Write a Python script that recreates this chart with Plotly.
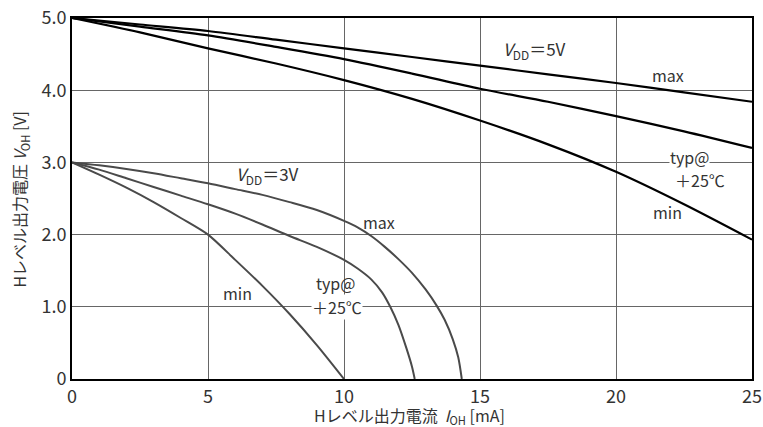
import plotly.graph_objects as go

# VDD = 5V curves
x5_max = [0, 2.5, 5, 7.5, 10, 12.5, 15, 17.5, 20, 22.5, 25]
y5_max = [5.0, 4.91, 4.82, 4.70, 4.58, 4.46, 4.34, 4.22, 4.10, 3.97, 3.84]
x5_typ = [0, 2.5, 5, 7.5, 10, 12.5, 15, 17.5, 20, 22.5, 25]
y5_typ = [5.0, 4.88, 4.76, 4.60, 4.43, 4.23, 4.02, 3.84, 3.64, 3.43, 3.20]
x5_min = [0, 2.5, 5, 7.5, 10, 12.5, 15, 17.5, 20, 22.5, 25]
y5_min = [5.0, 4.80, 4.58, 4.37, 4.14, 3.88, 3.58, 3.25, 2.87, 2.42, 1.93]

# VDD = 3V curves
x3_max = [0, 1, 2, 3, 4, 5, 6, 7, 8, 9, 10, 10.5, 11, 11.5, 12, 12.5, 13, 13.4, 13.7, 14.0, 14.2, 14.33]
y3_max = [3.0, 2.96, 2.91, 2.85, 2.78, 2.71, 2.63, 2.55, 2.45, 2.34, 2.19, 2.10, 1.98, 1.83, 1.66, 1.47, 1.24, 1.02, 0.82, 0.55, 0.30, 0.0]
x3_typ = [0, 1, 2, 3, 4, 5, 6, 7, 8, 9, 10, 10.5, 11, 11.4, 11.7, 12.0, 12.3, 12.5, 12.6]
y3_typ = [3.0, 2.9, 2.78, 2.66, 2.54, 2.42, 2.29, 2.14, 1.98, 1.83, 1.65, 1.53, 1.38, 1.20, 1.0, 0.75, 0.42, 0.17, 0.0]
x3_min = [0, 1, 2, 3, 4, 5, 6, 7, 8, 9, 10]
y3_min = [3.0, 2.83, 2.65, 2.45, 2.23, 2.0, 1.65, 1.29, 0.9, 0.47, 0.0]

x_ticks = [0, 5, 10, 15, 20, 25]
x_tick_text = ["0", "5", "10", "15", "20", "25"]
y_ticks = [0, 1, 2, 3, 4, 5]
y_tick_text = ["0", "1.0", "2.0", "3.0", "4.0", "5.0"]

FONT = "Noto Sans CJK JP"
TXT = "#333333"

fig = go.Figure()
for xs, ys in [(x5_max, y5_max), (x5_typ, y5_typ), (x5_min, y5_min)]:
    fig.add_trace(go.Scatter(x=xs, y=ys, mode="lines", line=dict(color="#000000", width=2.2, shape="spline", smoothing=0.8),
                             showlegend=False, hoverinfo="skip"))
for xs, ys in [(x3_max, y3_max), (x3_typ, y3_typ), (x3_min, y3_min)]:
    fig.add_trace(go.Scatter(x=xs, y=ys, mode="lines", line=dict(color="#4a4a4a", width=2, shape="spline", smoothing=0.8),
                             showlegend=False, hoverinfo="skip"))

def ann(x, y, text, bg=None, size=16):
    fig.add_annotation(x=x, y=y, text=text, showarrow=False, font=dict(family=FONT, size=size, color=TXT),
                       bgcolor=bg if bg else "rgba(0,0,0,0)", borderpad=0)

ann(17.0, 4.56, "<i>V</i><sub>DD</sub>＝5V", size=17)
ann(21.9, 4.21, "max")
ann(22.7, 3.07, "typ@", bg="white")
ann(23.1, 2.76, "＋25℃", bg="white")
ann(21.9, 2.31, "min")
ann(7.2, 2.83, "<i>V</i><sub>DD</sub>＝3V", size=17)
ann(11.3, 2.17, "max")
ann(9.7, 1.33, "typ@")
ann(9.75, 1.0, "＋25℃", bg="white")
ann(6.1, 1.19, "min")

# axis titles
fig.add_annotation(xref="paper", yref="paper", x=0.497, y=0, yshift=-36, yanchor="middle", showarrow=False,
                   text="Hレベル出力電流  <i>I</i><sub>OH</sub> [mA]", font=dict(family=FONT, size=16, color=TXT))
fig.add_annotation(xref="paper", yref="paper", x=0, y=0.497, xshift=-52, xanchor="center", textangle=-90, showarrow=False,
                   text="Hレベル出力電圧 <i>V</i><sub>OH</sub> [V]", font=dict(family=FONT, size=16, color=TXT))

fig.update_xaxes(range=[0, 25], tickvals=x_ticks, ticktext=x_tick_text, showgrid=True, gridcolor="#666666", gridwidth=1,
                 showline=True, linecolor="black", linewidth=2, mirror=True, ticks="", zeroline=False, automargin=False,
                 tickfont=dict(family=FONT, size=18, color=TXT))
fig.update_yaxes(range=[0, 5], tickvals=y_ticks, ticktext=y_tick_text, showgrid=True, gridcolor="#666666", gridwidth=1,
                 showline=True, linecolor="black", linewidth=2, mirror=True, ticks="", zeroline=False, automargin=False,
                 tickfont=dict(family=FONT, size=18, color=TXT))
fig.update_layout(width=763, height=427, margin=dict(l=72, r=11, t=18, b=48),
                  plot_bgcolor="white", paper_bgcolor="white")
fig.write_html("out.html", config={"displayModeBar": False},
               post_script="document.body.style.margin='0';document.body.style.overflow='hidden';")
